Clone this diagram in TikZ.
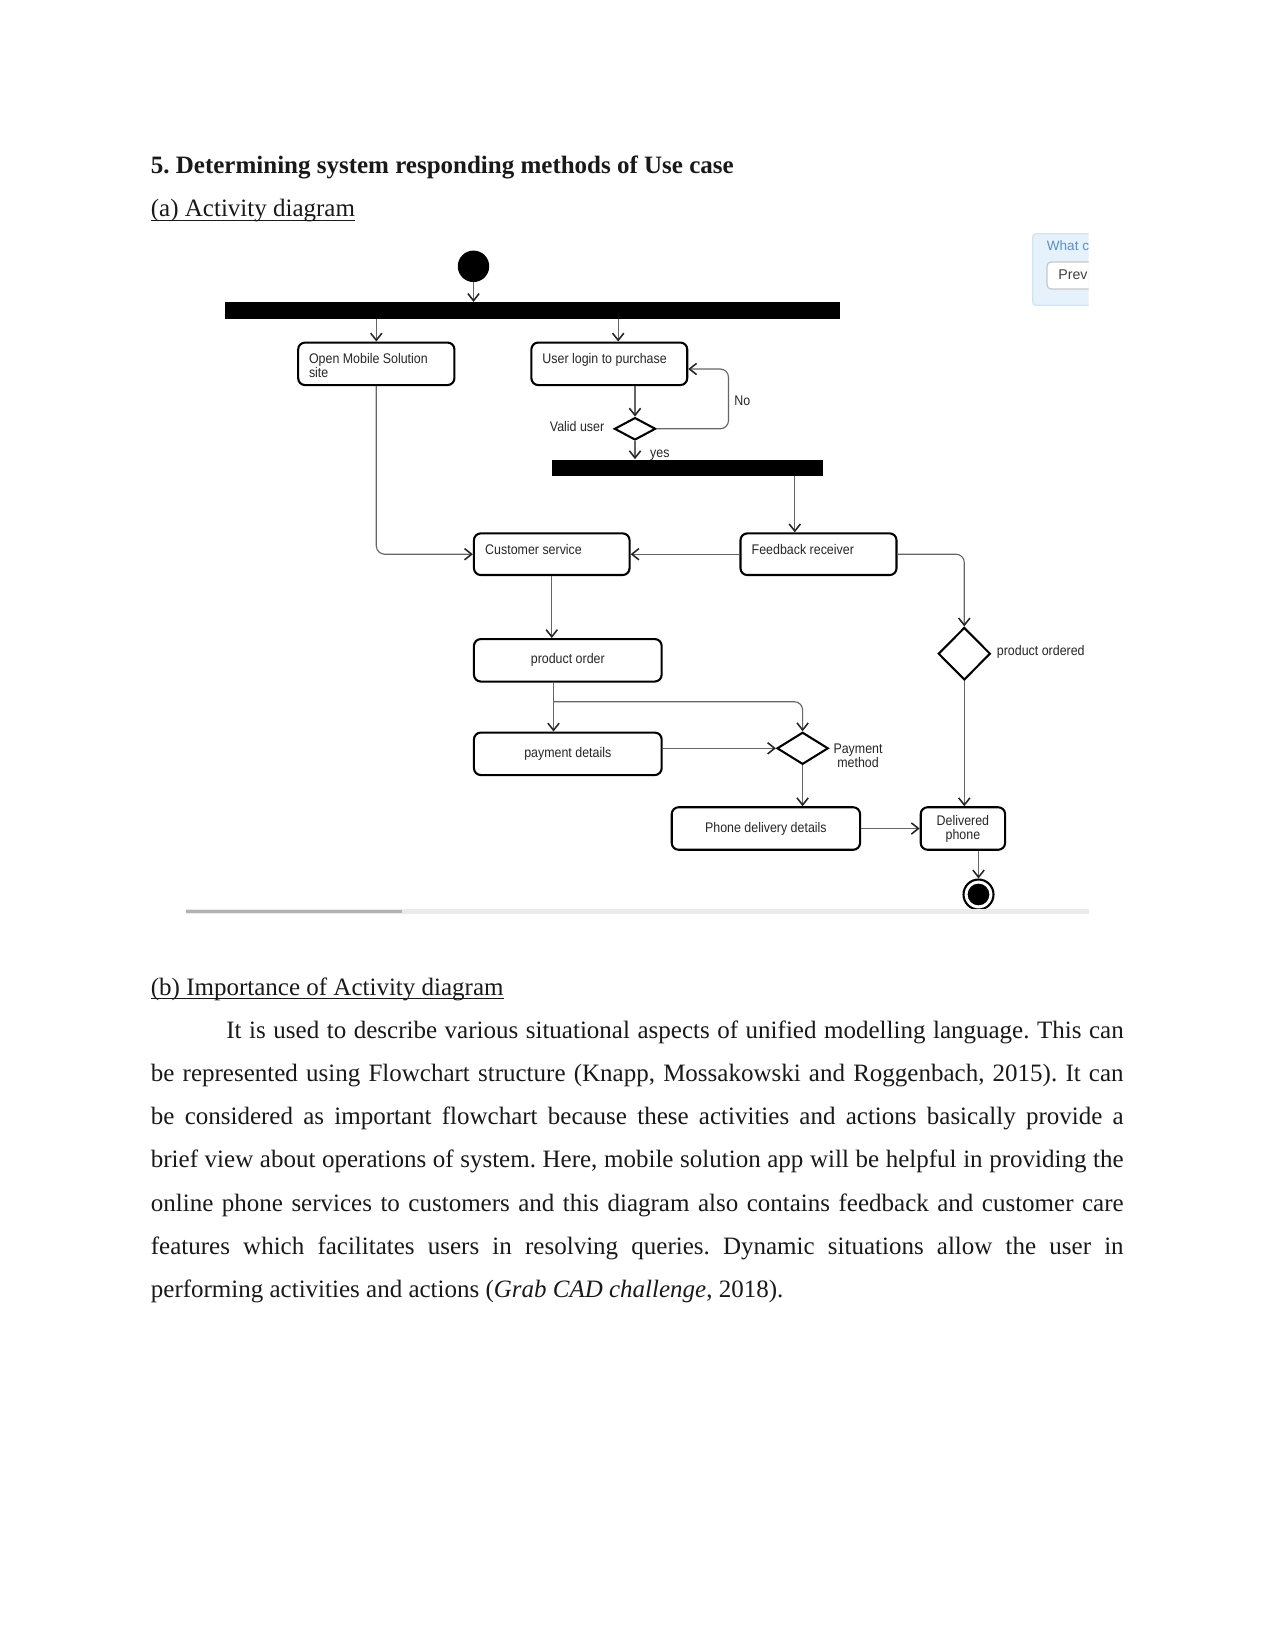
\documentclass[tikz,border=0pt]{standalone}
\usepackage{fontspec}
\setmainfont{Liberation Serif}
\newfontfamily\df[FakeStretch=0.89]{Liberation Sans}
\newfontfamily\wf{Liberation Sans}
\usetikzlibrary{shapes.geometric,arrows.meta,calc}
\definecolor{wbg}{HTML}{E6F2FB}
\definecolor{wborder}{HTML}{CFE3F2}
\definecolor{wtext}{HTML}{5A8FC2}
\frenchspacing
\begin{document}
\begin{tikzpicture}[x=0.48pt,y=-0.48pt,
 box/.style={draw=black, line width=1pt, rounded corners=3.3pt, inner sep=0pt, fill=white},
 bar/.style={fill=black, inner sep=0pt, draw=none},
 dia/.style={diamond, draw=black, line width=1pt, inner sep=0pt},
 conn/.style={draw=black!60, line width=0.55pt, -{Straight Barb[length=3.4pt,width=5.4pt,color=black!85,line width=0.75pt]}},
 plain/.style={draw=black!60, line width=0.55pt},
 dtext/.style={font=\df\fontsize{6.7pt}{6.72pt}\selectfont, text=black!85, inner sep=0pt},
 ptext/.style={font=\fontsize{12pt}{14pt}\selectfont, inner sep=0pt, anchor=base west, text=black!90},
 uline/.style={draw=black!90, line width=0.6pt}
]
\useasboundingbox (0,0) rectangle (1275,1651);
\fill[white] (0,0) rectangle (1275,1651);

% headings
\node[ptext, font=\bfseries\fontsize{12pt}{14pt}\selectfont] (head) at (150.5,173.3) {5. Determining system responding methods of Use case};
\node[ptext] (suba) at (150.5,217) {(a) Activity diagram};
\draw[uline] ([yshift=-1.6pt]suba.base west) -- ([yshift=-1.6pt]suba.base east);

% top-right widget
\begin{scope}
\clip (1030,230) rectangle (1088.6,310);
\draw[fill=wbg, draw=wborder, line width=0.6pt, rounded corners=1.5pt] (1032.8,233.7) rectangle (1110,305.3);
\node[anchor=base west, font=\wf\fontsize{6.5pt}{7pt}\selectfont, text=wtext, inner sep=0pt] (what) at (1046.5,251) {What c};
\draw[fill=white, draw=black!22, line width=0.6pt, rounded corners=2pt] (1047,262) rectangle (1110,289);
\node[anchor=base west, font=\wf\fontsize{6.8pt}{7pt}\selectfont, text=black!75, inner sep=0pt] (prev) at (1058,280) {Prev};
\end{scope}

% diagram nodes
\node[circle, fill=black, minimum size=15.1pt, inner sep=0pt] (start) at (473.5,266.3) {};
\node[bar, minimum width=295.1pt, minimum height=8pt] (bar1) at (532.7,310.7) {};
\node[box, minimum width=75pt, minimum height=20.4pt] (open) at (376.3,363.8) {};
\node[dtext, anchor=base west] (opent1) at (308.6,363.5) {Open Mobile Solution};
\node[dtext, anchor=base west] (opent2) at (308.6,377.5) {site};
\node[box, minimum width=74.8pt, minimum height=20.4pt] (login) at (609.3,363.8) {};
\node[dtext, anchor=base west] (logint) at (542,363.5) {User login to purchase};
\node[dia, minimum width=19.8pt, minimum height=10.75pt] (valid) at (635,428.8) {};
\node[dtext, anchor=base west] (validt) at (549.5,431.5) {Valid user};
\node[dtext, anchor=base west] (not) at (734,405.5) {No};
\node[dtext, anchor=base west] (yest) at (649.8,457.5) {yes};
\node[bar, minimum width=130.4pt, minimum height=7.7pt] (bar2) at (687.5,467.6) {};

\node[box, minimum width=74.7pt, minimum height=20pt] (cust) at (551.75,554.2) {};
\node[dtext, anchor=base west] (custt) at (484.8,554.2) {Customer service};
\node[box, minimum width=74.9pt, minimum height=20pt] (feed) at (818.5,554.2) {};
\node[dtext, anchor=base west] (feedt) at (751.3,554.2) {Feedback receiver};

\node[dia, minimum width=25pt, minimum height=25.2pt] (ordered) at (964.3,653.7) {};
\node[dtext, anchor=base west] (orderedt) at (996.5,655.5) {product ordered};

\node[box, dtext, draw=black, minimum width=90.1pt, minimum height=20.4pt] (porder) at (567.8,660.3) {product order};
\node[box, dtext, draw=black, minimum width=90.1pt, minimum height=20.4pt] (paydet) at (567.8,753.8) {payment details};
\node[dia, minimum width=24.6pt, minimum height=15.4pt] (paym) at (802.6,748.3) {};
\node[dtext, align=center] (paymt) at (858,756) {Payment\\method};
\node[box, dtext, draw=black, minimum width=90.4pt, minimum height=20.4pt] (phone) at (765.9,828.5) {Phone delivery details};
\node[box, dtext, draw=black, align=center, minimum width=40.5pt, minimum height=20.4pt] (deliv) at (962.9,828.5) {Delivered\\phone};
\node[circle, draw=black, line width=1pt, minimum size=14.4pt, inner sep=0pt] (end) at (978.5,894.5) {};
\node[circle, fill=black, minimum size=10.4pt, inner sep=0pt] (endin) at (978.5,894.5) {};

% helper coordinates
\coordinate (loginx) at (618.2,340);
\coordinate (noc) at (728.5,369);
\coordinate (fbx) at (794.8,500);
\coordinate (pox) at (553.5,700);
\coordinate (brk) at (553.5,701.7);

% connectors
\draw[conn] (start) -- (start |- bar1.north);
\draw[conn] (open.north |- bar1.south) -- (open.north);
\draw[conn] (loginx |- bar1.south) -- (loginx |- login.north);
\draw[conn] (valid.north |- login.south) -- (valid.north);
\draw[conn, rounded corners=4pt] (valid.east) -| (noc) -- (login.east |- noc);
\draw[conn] (valid.south) -- (valid.south |- bar2.north);
\draw[conn] (fbx |- bar2.south) -- (fbx |- feed.north);
\draw[conn] (feed.west) -- (cust.east);
\draw[conn, rounded corners=4pt] (open.south) |- (cust.west);
\draw[conn, rounded corners=4pt] (feed.east) -| (ordered.north);
\draw[conn] (ordered.south) -- (ordered.south |- deliv.north);
\draw[conn] (cust.south) -- (cust.south |- porder.north);
\draw[conn] (pox |- porder.south) -- (pox |- paydet.north);
\draw[conn, rounded corners=4pt] (brk) -| (paym.north);
\draw[conn] (paym.west -| paydet.east) -- (paym.west);
\draw[conn] (paym.south) -- (paym.south |- phone.north);
\draw[conn] (phone.east |- deliv.west) -- (deliv.west);
\draw[conn] (end.north |- deliv.south) -- (end.north);

% separator line
\draw[line width=2pt, draw=black!8] (186,911.5) -- (1088.6,911.5);
\draw[line width=1.5pt, draw=black!30] (186,911.5) -- (402,911.5);

% section b
\node[ptext] (subb) at (150.5,995) {(b) Importance of Activity diagram};
\draw[uline] ([yshift=-1.6pt]subb.base west) -- ([yshift=-1.6pt]subb.base east);

\node[ptext] (l1) at (226,1038.3) {\makebox[430.7pt][s]{It is used to describe various situational aspects of unified modelling language. This can}};
\node[ptext] (l2) at (150.5,1081.5) {\makebox[466.9pt][s]{be represented using Flowchart structure (Knapp, Mossakowski and Roggenbach, 2015). It can}};
\node[ptext] (l3) at (150.5,1124.7) {\makebox[466.9pt][s]{be considered as important flowchart because these activities and actions basically provide a}};
\node[ptext] (l4) at (150.5,1167.9) {\makebox[466.9pt][s]{brief view about operations of system. Here, mobile solution app will be helpful in providing the}};
\node[ptext] (l5) at (150.5,1211.1) {\makebox[466.9pt][s]{online phone services to customers and this diagram also contains feedback and customer care}};
\node[ptext] (l6) at (150.5,1254.3) {\makebox[466.9pt][s]{features which facilitates users in resolving queries. Dynamic situations allow the user in}};
\node[ptext] (l7) at (150.5,1297.5) {performing activities and actions (\textit{Grab CAD challenge}, 2018).};
\end{tikzpicture}
\end{document}
